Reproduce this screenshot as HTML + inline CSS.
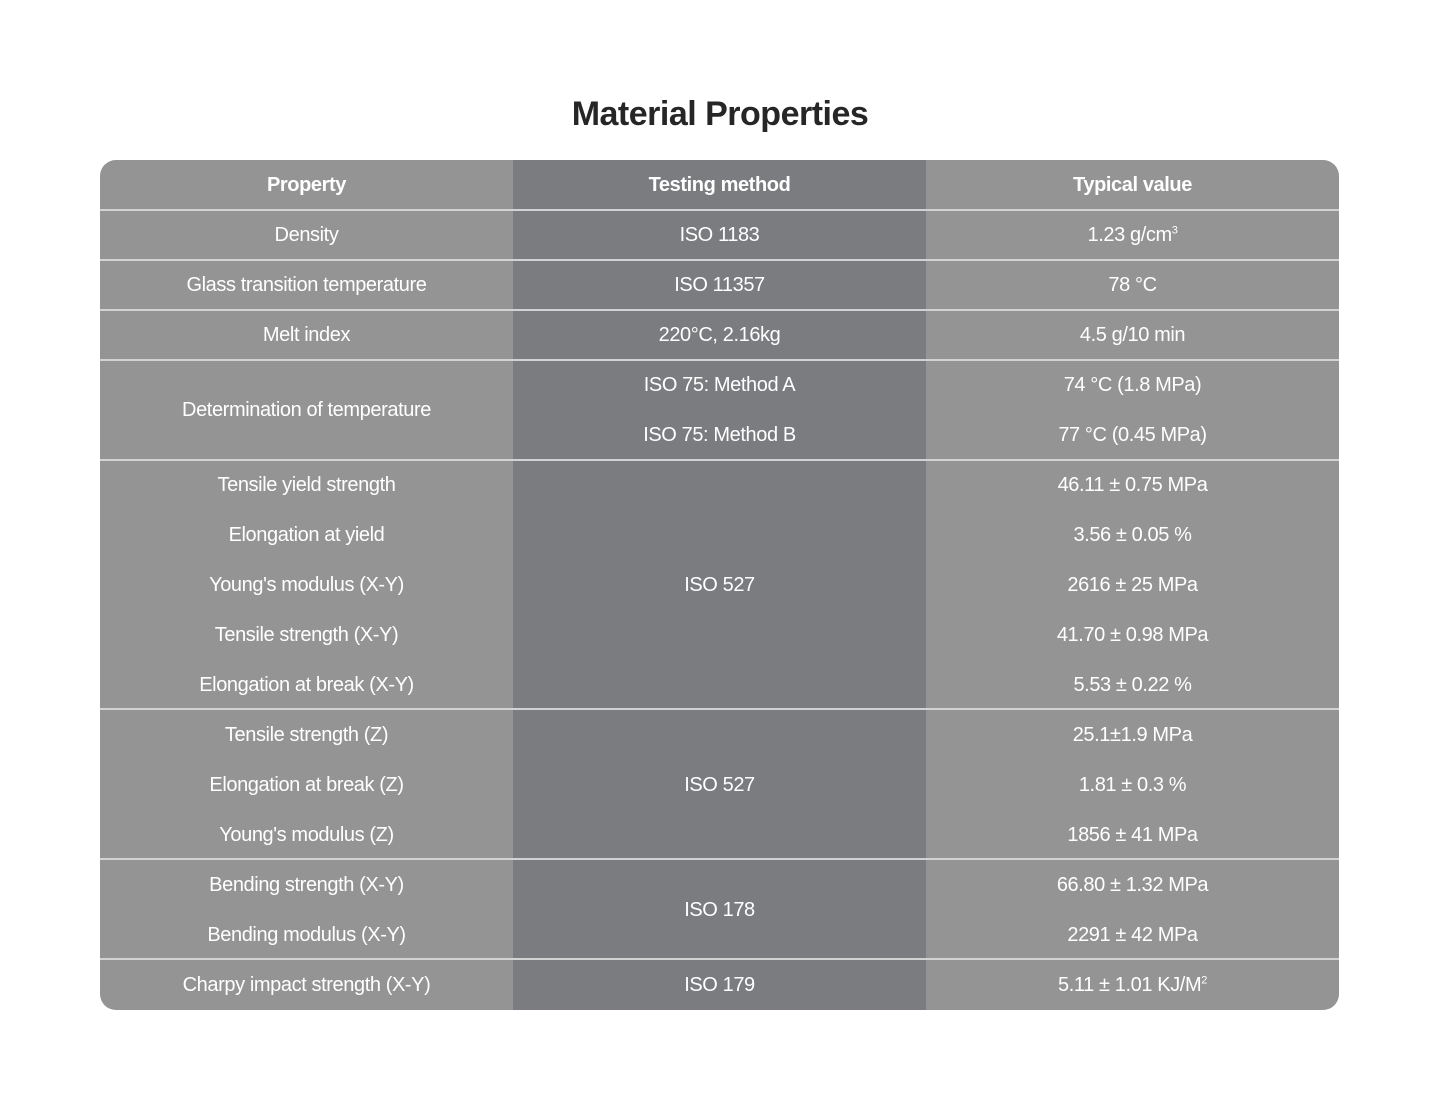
<!DOCTYPE html>
<html><head><meta charset="utf-8"><style>
body{margin:0;width:1440px;height:1111px;background:#fff;position:relative;font-family:"Liberation Sans",sans-serif;overflow:hidden}
h1{position:absolute;top:95px;left:0;width:1440px;text-align:center;margin:0;font-size:34px;font-weight:bold;color:#262626;letter-spacing:-0.5px}
.tbl{position:absolute;left:100px;top:160px;width:1239px;height:850px;border-radius:16px;overflow:hidden;background:#949494}
.mid{position:absolute;left:413px;top:0;width:413px;height:850px;background:#7b7c80}
.ln{position:absolute;left:0;width:1239px;height:2px;background:#d2d2d2}
.t{position:absolute;width:413px;text-align:center;color:#fff;font-size:20px;line-height:50px;letter-spacing:-0.4px}
.b{font-weight:bold}
sup{font-size:11px;line-height:0}
</style></head><body>
<h1>Material Properties</h1>
<div class="tbl">
<div class="mid"></div>
<div class="ln" style="top:49px"></div>
<div class="ln" style="top:99px"></div>
<div class="ln" style="top:149px"></div>
<div class="ln" style="top:199px"></div>
<div class="ln" style="top:299px"></div>
<div class="ln" style="top:548px"></div>
<div class="ln" style="top:698px"></div>
<div class="ln" style="top:798px"></div>

<div class="t b" style="left:0;top:0">Property</div>
<div class="t b" style="left:413px;top:0">Testing method</div>
<div class="t b" style="left:826px;top:0">Typical value</div>

<div class="t" style="left:0;top:50px">Density</div>
<div class="t" style="left:413px;top:50px">ISO 1183</div>
<div class="t" style="left:826px;top:50px">1.23 g/cm<sup>3</sup></div>

<div class="t" style="left:0;top:100px">Glass transition temperature</div>
<div class="t" style="left:413px;top:100px">ISO 11357</div>
<div class="t" style="left:826px;top:100px">78 °C</div>

<div class="t" style="left:0;top:150px">Melt index</div>
<div class="t" style="left:413px;top:150px">220°C, 2.16kg</div>
<div class="t" style="left:826px;top:150px">4.5 g/10 min</div>

<div class="t" style="left:0;top:225px">Determination of temperature</div>
<div class="t" style="left:413px;top:200px">ISO 75: Method A</div>
<div class="t" style="left:413px;top:250px">ISO 75: Method B</div>
<div class="t" style="left:826px;top:200px">74 °C (1.8 MPa)</div>
<div class="t" style="left:826px;top:250px">77 °C (0.45 MPa)</div>

<div class="t" style="left:0;top:300px">Tensile yield strength</div>
<div class="t" style="left:0;top:350px">Elongation at yield</div>
<div class="t" style="left:0;top:400px">Young's modulus (X-Y)</div>
<div class="t" style="left:0;top:450px">Tensile strength (X-Y)</div>
<div class="t" style="left:0;top:500px">Elongation at break (X-Y)</div>
<div class="t" style="left:413px;top:400px">ISO 527</div>
<div class="t" style="left:826px;top:300px">46.11 ± 0.75 MPa</div>
<div class="t" style="left:826px;top:350px">3.56 ± 0.05 %</div>
<div class="t" style="left:826px;top:400px">2616 ± 25 MPa</div>
<div class="t" style="left:826px;top:450px">41.70 ± 0.98 MPa</div>
<div class="t" style="left:826px;top:500px">5.53 ± 0.22 %</div>

<div class="t" style="left:0;top:550px">Tensile strength (Z)</div>
<div class="t" style="left:0;top:600px">Elongation at break (Z)</div>
<div class="t" style="left:0;top:650px">Young's modulus (Z)</div>
<div class="t" style="left:413px;top:600px">ISO 527</div>
<div class="t" style="left:826px;top:550px">25.1±1.9 MPa</div>
<div class="t" style="left:826px;top:600px">1.81 ± 0.3 %</div>
<div class="t" style="left:826px;top:650px">1856 ± 41 MPa</div>

<div class="t" style="left:0;top:700px">Bending strength (X-Y)</div>
<div class="t" style="left:0;top:750px">Bending modulus (X-Y)</div>
<div class="t" style="left:413px;top:725px">ISO 178</div>
<div class="t" style="left:826px;top:700px">66.80 ± 1.32 MPa</div>
<div class="t" style="left:826px;top:750px">2291 ± 42 MPa</div>

<div class="t" style="left:0;top:800px">Charpy impact strength (X-Y)</div>
<div class="t" style="left:413px;top:800px">ISO 179</div>
<div class="t" style="left:826px;top:800px">5.11 ± 1.01 KJ/M<sup>2</sup></div>
</div>
</body></html>
